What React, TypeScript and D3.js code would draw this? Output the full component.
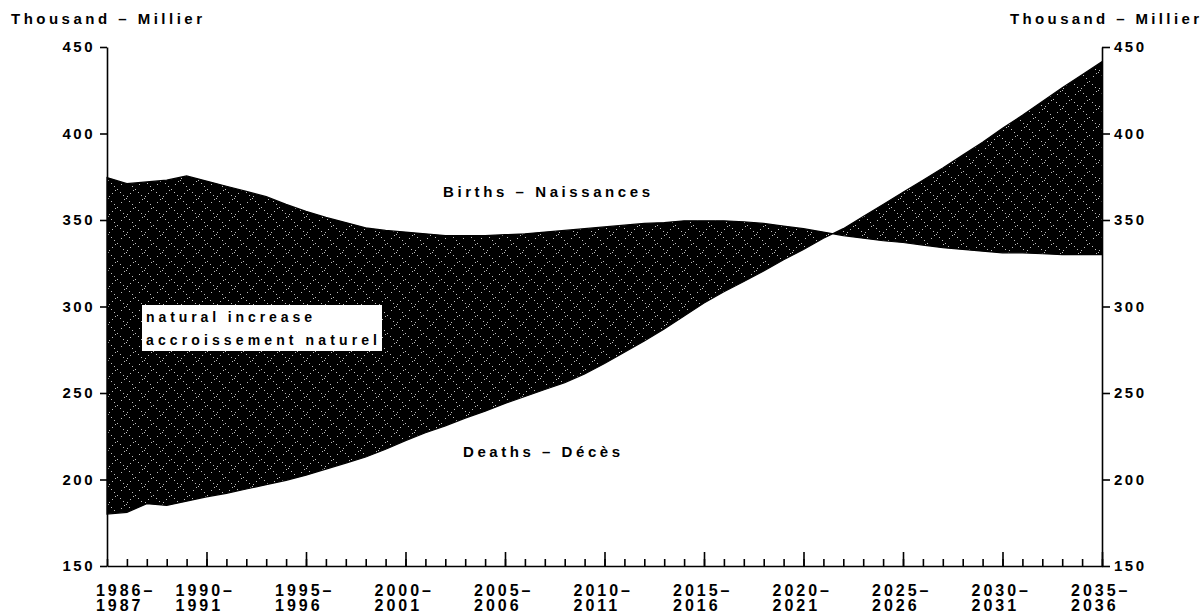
import React from 'react';
import * as d3 from 'd3';

// years on the x axis (1985-86 .. 2035-36)
const years = [
  1985, 1986, 1987, 1988, 1989, 1990, 1991, 1992, 1993, 1994,
  1995, 1996, 1997, 1998, 1999, 2000, 2001, 2002, 2003, 2004,
  2005, 2006, 2007, 2008, 2009, 2010, 2011, 2012, 2013, 2014,
  2015, 2016, 2017, 2018, 2019, 2020, 2021, 2022, 2023, 2024,
  2025, 2026, 2027, 2028, 2029, 2030, 2031, 2032, 2033, 2034, 2035,
];

// thousands
const births = [
  374.5, 371, 372, 373, 375.5, 372.5, 369.5, 366.5, 363.5, 359,
  355, 351.5, 348.5, 345.5, 344, 343, 342, 341, 341, 341,
  341.5, 342, 343, 344, 345, 346, 347, 348, 348.5, 349.5,
  349.5, 349.5, 349, 348, 346.5, 345, 343, 341, 339.5, 338,
  337, 335.5, 334, 333, 332, 331, 331, 330.5, 330, 330, 330,
];

const deaths = [
  180, 181, 186, 185, 187.5, 190, 192, 194.5, 197, 199.5,
  202.5, 206, 209.5, 213, 217.5, 222.5, 227, 231, 235.5, 239.5,
  244, 248, 252, 256, 261, 267, 273.5, 280, 287, 294.5,
  302, 308.5, 314.5, 320.5, 327, 333, 339.5, 345, 352, 359,
  366, 373, 380, 387.5, 395, 403, 410.5, 418.5, 426.5, 434, 441.5,
];

const yTicks = [150, 200, 250, 300, 350, 400, 450];
const labelYears = [1986, 1990, 1995, 2000, 2005, 2010, 2015, 2020, 2025, 2030, 2035];
const labelTop = ['1986–', '1990–', '1995–', '2000–', '2005–', '2010–', '2015–', '2020–', '2025–', '2030–', '2035–'];
const labelBottom = ['1987', '1991', '1996', '2001', '2006', '2011', '2016', '2021', '2026', '2031', '2036'];
const majorYears = [1990, 1995, 2000, 2005, 2010, 2015, 2020, 2025, 2030, 2035];

const FONT = '"Liberation Sans", Arial, sans-serif';

class App extends React.Component {
  svgEl: SVGSVGElement | null = null;

  componentDidMount() {
    this.draw();
  }

  draw() {
    const svg = d3.select(this.svgEl);
    svg.selectAll('*').remove();

    const left = 107, right = 1102, top = 47, bottom = 566;

    const x = d3.scaleLinear().domain([1985, 2035]).range([left, right]);
    const y = d3.scaleLinear().domain([150, 450]).range([bottom, top]);

    // dotted crosshatch fill (mostly black, sparse white dots)
    const defs = svg.append('defs');
    const pat = defs.append('pattern')
      .attr('id', 'hatch')
      .attr('patternUnits', 'userSpaceOnUse')
      .attr('width', 18)
      .attr('height', 18);
    pat.append('rect').attr('width', 18).attr('height', 18).attr('fill', '#000');
    const dots = [[0, 0], [3, 3], [6, 6], [9, 9], [12, 12], [15, 15],
                  [1, 16], [4, 13], [7, 10], [13, 4], [16, 1]];
    pat.selectAll('rect.d').data(dots).enter().append('rect')
      .attr('class', 'd')
      .attr('x', d => d[0]).attr('y', d => d[1])
      .attr('width', 1).attr('height', 1)
      .attr('fill', '#fff').attr('opacity', 0.75);

    const rows = years.map((yr, i) => ({ yr, b: births[i], d: deaths[i] }));
    const area = d3.area<any>()
      .x(d => x(d.yr))
      .y0(d => y(d.d))
      .y1(d => y(d.b));

    svg.append('path')
      .datum(rows)
      .attr('d', area)
      .attr('fill', 'url(#hatch)')
      .attr('stroke', '#000')
      .attr('stroke-width', 1.2);

    // left axis
    const yAxisL = d3.axisLeft(y).tickValues(yTicks).tickSize(7).tickSizeOuter(0).tickPadding(5)
      .tickFormat(d3.format('d'));
    const gL = svg.append('g').attr('transform', `translate(${left},0)`).call(yAxisL);

    // right axis
    const yAxisR = d3.axisRight(y).tickValues(yTicks).tickSize(8).tickSizeOuter(0).tickPadding(4)
      .tickFormat(d3.format('d'));
    const gR = svg.append('g').attr('transform', `translate(${right},0)`).call(yAxisR);

    [gL, gR].forEach(g => {
      g.selectAll('path, line').attr('stroke', '#000').attr('stroke-width', 1.6);
      g.selectAll('text')
        .attr('font-family', FONT)
        .attr('font-size', 15)
        .attr('font-weight', 'bold')
        .attr('letter-spacing', 2.5)
        .attr('fill', '#000');
    });

    // bottom axis: minor ticks every year, major every 5
    const xAxisMinor = d3.axisBottom(x).tickValues(years).tickSize(-7).tickSizeOuter(0).tickFormat(() => '');
    const gB = svg.append('g').attr('transform', `translate(0,${bottom})`).call(xAxisMinor);
    const xAxisMajor = d3.axisBottom(x).tickValues(majorYears).tickSize(-14).tickSizeOuter(0).tickFormat(() => '');
    const gB2 = svg.append('g').attr('transform', `translate(0,${bottom})`).call(xAxisMajor);
    gB2.select('.domain').remove();
    [gB, gB2].forEach(g => g.selectAll('path, line').attr('stroke', '#000').attr('stroke-width', 1.6));

    const xl = svg.append('g')
      .attr('font-family', FONT)
      .attr('font-size', 16)
      .attr('font-weight', 'bold')
      .attr('letter-spacing', 3);
    xl.selectAll('text.t').data(labelYears).enter().append('text')
      .attr('class', 't')
      .attr('x', d => x(d) - 31)
      .attr('y', 596)
      .text((d, i) => labelTop[i]);
    xl.selectAll('text.b').data(labelYears).enter().append('text')
      .attr('class', 'b')
      .attr('x', d => x(d) - 31)
      .attr('y', 611)
      .text((d, i) => labelBottom[i]);

    // unit labels
    const txt = (tx: number, ty: number, s: string, len: number, size = 15) =>
      svg.append('text')
        .attr('x', tx).attr('y', ty)
        .attr('font-family', FONT)
        .attr('font-size', size)
        .attr('font-weight', 'bold')
        .attr('textLength', len)
        .attr('lengthAdjust', 'spacing')
        .text(s);

    txt(11, 24, 'Thousand – Millier', 191);
    txt(1010, 24, 'Thousand – Millier', 189);
    txt(443, 197, 'Births – Naissances', 207);
    txt(463, 457, 'Deaths – Décès', 157);

    // legend box
    svg.append('rect')
      .attr('x', 142).attr('y', 305)
      .attr('width', 240).attr('height', 46)
      .attr('fill', '#fff');
    txt(146, 322, 'natural increase', 166, 14);
    txt(146, 345, 'accroissement naturel', 231, 14);
  }

  render() {
    return (
      <svg
        width={1203}
        height={616}
        style={{ position: 'absolute', left: 0, top: 0, background: '#fff' }}
        ref={el => { this.svgEl = el; }}
      />
    );
  }
}

export default App;
